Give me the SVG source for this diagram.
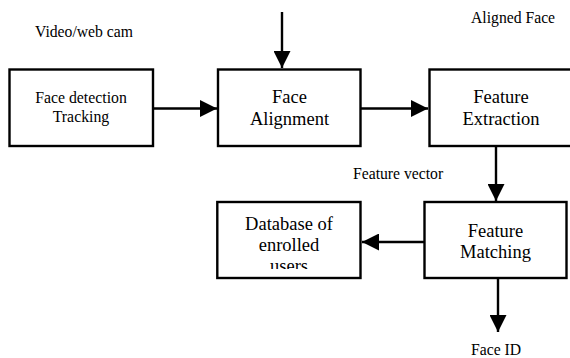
<svg xmlns="http://www.w3.org/2000/svg" width="570" height="358" viewBox="0 0 570 358">
<style>
text{font-family:"Liberation Serif","Times New Roman",serif;fill:#000}
.lbl{font-size:15.7px}
.big{font-size:18.5px;text-anchor:middle}
.sm{font-size:15.8px;text-anchor:middle}
.box{fill:#fff;stroke:#000;stroke-width:2.4}
.conn{stroke:#000;stroke-width:2.4;fill:none;marker-end:url(#ah)}
</style>
<defs>
<marker id="ah" markerUnits="userSpaceOnUse" markerWidth="17" markerHeight="17" refX="16" refY="8" orient="auto" viewBox="0 0 16 16">
<path d="M0,0 L16,8 L0,16 z" fill="#000"/>
</marker>
<clipPath id="dbclip"><rect x="216" y="200" width="146" height="69"/></clipPath>
</defs>
<rect width="570" height="358" fill="#fff"/>
<g id="labels">
<text class="lbl" x="35" y="36.5">Video/web cam</text>
<text class="lbl" x="471" y="23">Aligned Face</text>
<text class="lbl" x="353" y="178.5">Feature vector</text>
<text class="lbl" x="471" y="355">Face ID</text>
</g>
<g id="connectors">
<path class="conn" d="M282,12 V68"/>
<path class="conn" d="M153,108.5 H217"/>
<path class="conn" d="M361,108.5 H428"/>
<path class="conn" d="M496,146 V201"/>
<path class="conn" d="M424,242 H362"/>
<path class="conn" d="M498,278 V332"/>
</g>
<g id="face-detection">
<rect class="box" x="9.5" y="69.5" width="143.5" height="76.5"/>
<text class="sm" x="81" y="103">Face detection</text>
<text class="sm" x="81" y="122">Tracking</text>
</g>
<g id="face-alignment">
<rect class="box" x="218" y="69.5" width="142.5" height="76.5"/>
<text class="big" x="289.5" y="103">Face</text>
<text class="big" x="289.5" y="125">Alignment</text>
</g>
<g id="feature-extraction">
<rect class="box" x="429.5" y="69.5" width="143" height="76.5"/>
<text class="big" x="501" y="103">Feature</text>
<text class="big" x="501" y="125">Extraction</text>
</g>
<g id="feature-matching">
<rect class="box" x="424.5" y="202" width="142" height="76"/>
<text class="big" x="495.5" y="236.5">Feature</text>
<text class="big" x="495.5" y="258">Matching</text>
</g>
<g id="database">
<rect class="box" x="217.3" y="202" width="143.2" height="76"/>
<text class="big" x="289" y="229.5">Database of</text>
<text class="big" x="289" y="251">enrolled</text>
<text class="big" x="289" y="272" clip-path="url(#dbclip)">users</text>
</g>
</svg>
